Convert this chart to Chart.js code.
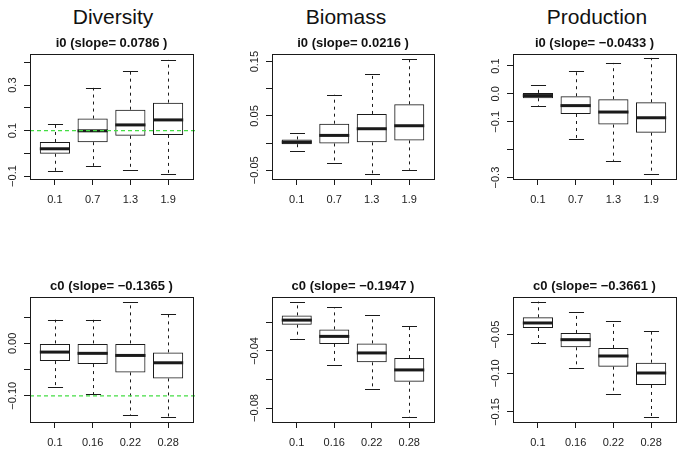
<!DOCTYPE html>
<html>
<head>
<meta charset="utf-8">
<script src="https://cdn.jsdelivr.net/npm/chart.js@4.4.0/dist/chart.umd.min.js"></script>
<style>
  body { margin: 0; background: #fff; width: 683px; height: 450px; position: relative; overflow: hidden;
         font-family: "Liberation Sans", Arial, sans-serif; }
  canvas { position: absolute; }
  .head { position: absolute; top: 5px; font-size: 21px; color: #111; transform: translateX(-50%); white-space: nowrap; }
</style>
</head>
<body>
<div class="head" style="left:113px">Diversity</div>
<div class="head" style="left:346px">Biomass</div>
<div class="head" style="left:597px">Production</div>

<script>
// categories
const i0Labels = ['0.1', '0.7', '1.3', '1.9'];
const c0Labels = ['0.1', '0.16', '0.22', '0.28'];

// Diversity, i0
const divI0Lo  = [-0.078, -0.055, -0.072, -0.093];
const divI0Q1  = [-0.002, 0.049, 0.077, 0.081];
const divI0Med = [0.020, 0.099, 0.125, 0.147];
const divI0Q3  = [0.050, 0.153, 0.192, 0.223];
const divI0Hi  = [0.128, 0.288, 0.363, 0.411];
const divI0Ticks = [-0.1, 0, 0.1, 0.2, 0.3, 0.4];
const divI0TickText = ['\u22120.1', '', '0.1', '', '0.3', ''];

// Biomass, i0
const bioI0Lo  = [-0.0137, -0.036, -0.057, -0.049];
const bioI0Q1  = [-0.002, -0.0006, 0.0014, 0.005];
const bioI0Med = [0.0018, 0.0142, 0.0265, 0.032];
const bioI0Q3  = [0.0068, 0.0358, 0.0537, 0.0715];
const bioI0Hi  = [0.019, 0.089, 0.128, 0.1555];
const bioI0Ticks = [-0.05, 0, 0.05, 0.1, 0.15];
const bioI0TickText = ['\u22120.05', '', '0.05', '', '0.15'];

// Production, i0
const prodI0Lo  = [-0.043, -0.160, -0.240, -0.287];
const prodI0Q1  = [-0.0157, -0.072, -0.110, -0.139];
const prodI0Med = [-0.006, -0.042, -0.065, -0.0855];
const prodI0Q3  = [0.0036, -0.0084, -0.019, -0.030];
const prodI0Hi  = [0.031, 0.082, 0.111, 0.129];
const prodI0Ticks = [-0.3, -0.2, -0.1, 0, 0.1];
const prodI0TickText = ['\u22120.3', '', '\u22120.1', '0.0', '0.1'];

// Diversity, c0
const divC0Lo  = [-0.0834, -0.0975, -0.137, -0.1408];
const divC0Q1  = [-0.0338, -0.0395, -0.0554, -0.0669];
const divC0Med = [-0.0166, -0.019, -0.023, -0.037];
const divC0Q3  = [0.0, 0.0, 0.0, -0.0172];
const divC0Hi  = [0.0452, 0.045, 0.0796, 0.056];
const divC0Ticks = [-0.1, -0.05, 0, 0.05];
const divC0TickText = ['\u22120.10', '', '0.00', ''];

// Biomass, c0
const bioC0Lo  = [-0.0315, -0.0498, -0.0667, -0.0864];
const bioC0Q1  = [-0.0216, -0.0351, -0.048, -0.0616];
const bioC0Med = [-0.0184, -0.0298, -0.0414, -0.0533];
const bioC0Q3  = [-0.0151, -0.0249, -0.0347, -0.045];
const bioC0Hi  = [-0.0055, -0.0095, -0.0151, -0.0223];
const bioC0Ticks = [-0.08, -0.06, -0.04, -0.02];
const bioC0TickText = ['\u22120.08', '', '\u22120.04', ''];

// Production, c0
const prodC0Lo  = [-0.0612, -0.0931, -0.1272, -0.1565];
const prodC0Q1  = [-0.0414, -0.0664, -0.0914, -0.1151];
const prodC0Med = [-0.0349, -0.0565, -0.0776, -0.0996];
const prodC0Q3  = [-0.0276, -0.0478, -0.0672, -0.0862];
const prodC0Hi  = [-0.0073, -0.0207, -0.0328, -0.0457];
const prodC0Ticks = [-0.15, -0.1, -0.05];
const prodC0TickText = ['\u22120.15', '\u22120.10', '\u22120.05'];

const panels = [
  { title: 'i0 (slope= 0.0786 )', cats: i0Labels, lo: divI0Lo, q1: divI0Q1, med: divI0Med, q3: divI0Q3, hi: divI0Hi,
    ymin: -0.113, ymax: 0.437, ticks: divI0Ticks, tickText: divI0TickText, ref: 0.1, col: 0, row: 0 },
  { title: 'i0 (slope= 0.0216 )', cats: i0Labels, lo: bioI0Lo, q1: bioI0Q1, med: bioI0Med, q3: bioI0Q3, hi: bioI0Hi,
    ymin: -0.066, ymax: 0.164, ticks: bioI0Ticks, tickText: bioI0TickText, ref: null, col: 1, row: 0 },
  { title: 'i0 (slope= \u22120.0433 )', cats: i0Labels, lo: prodI0Lo, q1: prodI0Q1, med: prodI0Med, q3: prodI0Q3, hi: prodI0Hi,
    ymin: -0.305, ymax: 0.143, ticks: prodI0Ticks, tickText: prodI0TickText, ref: null, col: 2, row: 0 },
  { title: 'c0 (slope= \u22120.1365 )', cats: c0Labels, lo: divC0Lo, q1: divC0Q1, med: divC0Med, q3: divC0Q3, hi: divC0Hi,
    ymin: -0.150, ymax: 0.0885, ticks: divC0Ticks, tickText: divC0TickText, ref: -0.1, col: 0, row: 1 },
  { title: 'c0 (slope= \u22120.1947 )', cats: c0Labels, lo: bioC0Lo, q1: bioC0Q1, med: bioC0Med, q3: bioC0Q3, hi: bioC0Hi,
    ymin: -0.0898, ymax: -0.0022, ticks: bioC0Ticks, tickText: bioC0TickText, ref: null, col: 1, row: 1 },
  { title: 'c0 (slope= \u22120.3661 )', cats: c0Labels, lo: prodC0Lo, q1: prodC0Q1, med: prodC0Med, q3: prodC0Q3, hi: prodC0Hi,
    ymin: -0.163, ymax: -0.0013, ticks: prodC0Ticks, tickText: prodC0TickText, ref: null, col: 2, row: 1 }
];

// page layout (canvas boxes and where the plot frame should land)
const colBox = [{ left: 0, w: 227 }, { left: 227, w: 228 }, { left: 455, w: 228 }];
const rowBox = [{ top: 0, h: 225 }, { top: 225, h: 225 }];
const plotX = [[30, 193], [272, 434], [513, 676]];
const plotY = [[54, 179], [297, 422]];
const Y_W = 26, X_H = 28, TITLE_H = 13 * 1.2 + 3;
const INK = '#1a1a1a';
const FONT = '"Liberation Sans", Arial, sans-serif';

function boxExtras(p) {
  return {
    id: 'boxExtras',
    afterDatasetsDraw(chart) {
      const { ctx, chartArea: a, scales: { x, y } } = chart;
      const meta = chart.getDatasetMeta(0);
      ctx.save();
      ctx.strokeStyle = INK;
      meta.data.forEach((bar, i) => {
        const cx = Math.round(x.getPixelForValue(i + 1)) + 0.5;
        const half = bar.width / 2;
        const yLo = y.getPixelForValue(p.lo[i]);
        const yHi = y.getPixelForValue(p.hi[i]);
        const yQ1 = y.getPixelForValue(p.q1[i]);
        const yQ3 = y.getPixelForValue(p.q3[i]);
        const yMed = y.getPixelForValue(p.med[i]);
        // dashed whiskers
        ctx.lineWidth = 1;
        ctx.setLineDash([3, 4]);
        ctx.beginPath();
        ctx.moveTo(cx, yQ3); ctx.lineTo(cx, yHi);
        ctx.moveTo(cx, yQ1); ctx.lineTo(cx, yLo);
        ctx.stroke();
        // staples
        ctx.setLineDash([]);
        ctx.beginPath();
        ctx.moveTo(cx - half / 2, Math.round(yHi) + 0.5); ctx.lineTo(cx + half / 2, Math.round(yHi) + 0.5);
        ctx.moveTo(cx - half / 2, Math.round(yLo) + 0.5); ctx.lineTo(cx + half / 2, Math.round(yLo) + 0.5);
        ctx.stroke();
        // median
        ctx.lineWidth = 3;
        ctx.lineCap = 'butt';
        ctx.beginPath();
        ctx.moveTo(bar.x - half, yMed); ctx.lineTo(bar.x + half, yMed);
        ctx.stroke();
      });
      // reference line
      if (p.ref !== null) {
        const yr = y.getPixelForValue(p.ref);
        ctx.strokeStyle = '#44dd44';
        ctx.lineWidth = 1.2;
        ctx.setLineDash([4, 3]);
        ctx.beginPath();
        ctx.moveTo(a.left, yr); ctx.lineTo(a.right + 3, yr);
        ctx.stroke();
        ctx.setLineDash([]);
      }
      // frame
      ctx.strokeStyle = INK;
      ctx.lineWidth = 1;
      ctx.strokeRect(Math.round(a.left) + 0.5, Math.round(a.top) + 0.5,
                     Math.round(a.width), Math.round(a.height));
      // rotated y labels
      ctx.fillStyle = '#222';
      ctx.font = '11px ' + FONT;
      ctx.textAlign = 'center';
      ctx.textBaseline = 'middle';
      p.ticks.forEach((v, i) => {
        if (!p.tickText[i]) return;
        ctx.save();
        ctx.translate(a.left - 17, y.getPixelForValue(v));
        ctx.rotate(-Math.PI / 2);
        ctx.fillText(p.tickText[i], 0, 0);
        ctx.restore();
      });
      ctx.restore();
    }
  };
}

panels.forEach((p) => {
  const cb = colBox[p.col], rb = rowBox[p.row];
  const [pl, pr] = plotX[p.col], [pt, pb] = plotY[p.row];
  const canvas = document.createElement('canvas');
  canvas.width = cb.w; canvas.height = rb.h;
  canvas.style.left = cb.left + 'px'; canvas.style.top = rb.top + 'px';
  document.body.appendChild(canvas);

  new Chart(canvas.getContext('2d'), {
    type: 'bar',
    data: {
      datasets: [{
        data: p.q1.map((v, i) => ({ x: i + 1, y: [v, p.q3[i]] })),
        backgroundColor: 'rgba(0,0,0,0)',
        borderColor: INK,
        borderWidth: 1,
        borderSkipped: false,
        barPercentage: 0.8,
        categoryPercentage: 1
      }]
    },
    options: {
      responsive: false,
      animation: false,
      events: [],
      layout: {
        padding: {
          left: pl - cb.left - Y_W,
          right: cb.left + cb.w - pr,
          top: pt - rb.top - TITLE_H,
          bottom: rb.top + rb.h - pb - X_H
        }
      },
      plugins: {
        legend: { display: false },
        tooltip: { enabled: false },
        title: {
          display: true,
          text: p.title,
          fullSize: false,
          color: '#111',
          font: { family: FONT, size: 13, weight: 'bold' },
          padding: { top: 0, bottom: 3 }
        }
      },
      scales: {
        x: {
          type: 'linear',
          min: 0.34, max: 4.66,
          offset: false,
          afterBuildTicks: (s) => { s.ticks = p.cats.map((c, i) => ({ value: i + 1 })); },
          afterFit: (s) => { s.height = X_H; },
          border: { display: false },
          grid: { offset: false, drawOnChartArea: false, drawTicks: true, tickLength: 6, color: INK },
          ticks: {
            color: '#222', font: { family: FONT, size: 11 }, padding: 8, maxRotation: 0, autoSkip: false,
            callback: (v) => p.cats[v - 1]
          }
        },
        y: {
          min: p.ymin, max: p.ymax,
          afterBuildTicks: (s) => { s.ticks = p.ticks.map((v) => ({ value: v })); },
          afterFit: (s) => { s.width = Y_W; },
          border: { display: false },
          grid: { drawOnChartArea: false, drawTicks: true, tickLength: 6, color: INK },
          ticks: { display: false }
        }
      }
    },
    plugins: [boxExtras(p)]
  });
});
</script>
</body>
</html>
